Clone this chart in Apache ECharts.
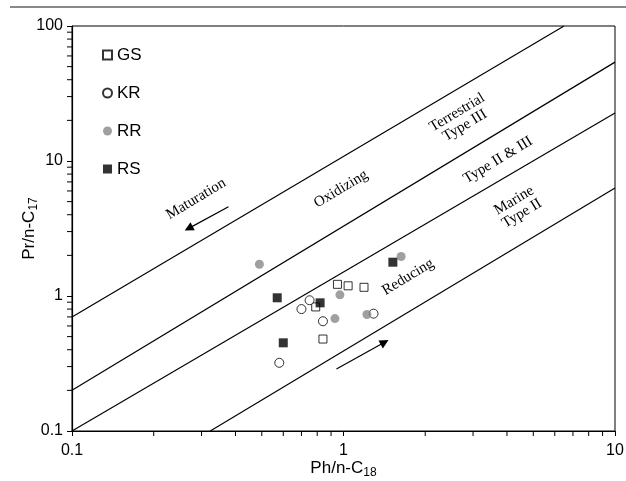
<!DOCTYPE html>
<html>
<head>
<meta charset="utf-8">
<script src="https://cdn.jsdelivr.net/npm/echarts@6/dist/echarts.min.js"></script>
<style>
  html, body { margin: 0; padding: 0; background: #fff; }
  #chart { width: 626px; height: 481px; }
</style>
</head>
<body>
<div id="chart"></div>
<script>
// sample points [Ph/n-C18, Pr/n-C17]
var gsData = [[0.95, 1.22], [1.04, 1.19], [1.19, 1.16], [0.79, 0.83], [0.84, 0.48]];
var krData = [[0.70, 0.80], [0.75, 0.93], [0.84, 0.65], [1.29, 0.74], [0.58, 0.32]];
var rrData = [[0.49, 1.72], [0.97, 1.02], [0.93, 0.68], [1.22, 0.73], [1.63, 1.96]];
var rsData = [[1.52, 1.78], [0.57, 0.97], [0.82, 0.89], [0.60, 0.45]];

// boundary lines (end points)
var lineTerrestrial = [[0.1, 0.7], [6.49, 100]];
var lineMixed = [[0.1, 0.2], [10, 54]];
var lineMarine = [[0.1, 0.1], [10, 22.7]];
var lineReducing = [[0.323, 0.1], [10, 6.3]];

// arrows [from, to]
var arrowMaturation = [[0.377, 4.59], [0.269, 3.17]];
var arrowReducing = [[0.942, 0.288], [1.417, 0.454]];

// minor tick values
var xMinorTicks = [0.2, 0.3, 0.4, 0.5, 0.6, 0.7, 0.8, 0.9, 2, 3, 4, 5, 6, 7, 8, 9];
var yMinorTicks = [0.2, 0.3, 0.4, 0.5, 0.6, 0.7, 0.8, 0.9, 2, 3, 4, 5, 6, 7, 8, 9,
  20, 30, 40, 50, 60, 70, 80, 90];

var sansFont = "'Liberation Sans', Arial, sans-serif";
var serifFont = "'Liberation Serif', 'Times New Roman', serif";
var ang = 31 * Math.PI / 180;

var chart = echarts.init(document.getElementById("chart"));

function boundary(data) {
  return {
    type: "line",
    data: data,
    symbol: "none",
    silent: true,
    lineStyle: { color: "#000", width: 1.2 },
    z: 1
  };
}

function annot(x, y, text) {
  return {
    type: "text",
    x: x,
    y: y,
    rotation: ang,
    style: {
      text: text,
      font: "15px " + serifFont,
      fill: "#000",
      align: "center",
      verticalAlign: "middle"
    },
    z: 10
  };
}

chart.setOption({
  animation: false,
  grid: {
    left: 72,
    top: 26,
    right: 11,
    bottom: 50,
    outerBoundsMode: "none",
    show: true,
    borderColor: "#000",
    borderWidth: 1
  },
  legend: {
    data: ["GS", "KR", "RR", "RS"],
    orient: "vertical",
    left: 97,
    top: 40,
    itemWidth: 9,
    itemHeight: 9,
    itemGap: 18,
    textStyle: { fontSize: 17, fontFamily: sansFont, color: "#000", lineHeight: 20 }
  },
  xAxis: {
    type: "log",
    logBase: 10,
    min: 0.1,
    max: 10,
    name: "{n|Ph/n-C}{s|18}",
    nameLocation: "middle",
    nameGap: 27,
    nameMoveOverlap: false,
    nameTextStyle: {
      rich: {
        n: { fontSize: 17, fontFamily: sansFont, color: "#000" },
        s: { fontSize: 12, fontFamily: sansFont, color: "#000", verticalAlign: "bottom", padding: [9, 0, 0, 0] }
      }
    },
    axisLine: { show: true, lineStyle: { color: "#000", width: 1.2 } },
    axisTick: { show: true, length: 5, lineStyle: { color: "#000" } },
    splitLine: { show: false },
    axisLabel: {
      fontSize: 16, fontFamily: sansFont, color: "#000", margin: 12,
      formatter: function (v) { return String(+v.toPrecision(3)); }
    }
  },
  yAxis: {
    type: "log",
    logBase: 10,
    min: 0.1,
    max: 100,
    name: "{n|Pr/n-C}{s|17}",
    nameLocation: "middle",
    nameGap: 32,
    nameMoveOverlap: false,
    nameRotate: 90,
    nameTextStyle: {
      rich: {
        n: { fontSize: 17, fontFamily: sansFont, color: "#000" },
        s: { fontSize: 12, fontFamily: sansFont, color: "#000", verticalAlign: "bottom", padding: [9, 0, 0, 0] }
      }
    },
    axisLine: { show: true, lineStyle: { color: "#000", width: 1.2 } },
    axisTick: { show: true, length: 5, lineStyle: { color: "#000" } },
    splitLine: { show: false },
    axisLabel: {
      fontSize: 16, fontFamily: sansFont, color: "#000", margin: 9,
      formatter: function (v) { return String(+v.toPrecision(3)); }
    }
  },
  graphic: [
    {
      type: "line",
      shape: { x1: 10, y1: 7, x2: 626, y2: 7 },
      style: { stroke: "#888", lineWidth: 2 }
    },
    annot(196, 199, "Maturation"),
    annot(341, 189, "Oxidizing"),
    annot(461, 119, "Terrestrial\nType III"),
    annot(498, 160, "Type II & III"),
    annot(518, 207, "Marine\nType II"),
    annot(408, 277, "Reducing")
  ],
  series: [
    boundary(lineTerrestrial),
    boundary(lineMixed),
    boundary(lineMarine),
    boundary(lineReducing),
    {
      // arrows
      type: "line",
      data: [],
      silent: true,
      markLine: {
        silent: true,
        symbol: ["none", "triangle"],
        symbolSize: 9,
        label: { show: false },
        lineStyle: { color: "#000", width: 1.2, type: "solid" },
        itemStyle: { color: "#000" },
        data: [
          [{ coord: arrowMaturation[0] }, { coord: arrowMaturation[1] }],
          [{ coord: arrowReducing[0] }, { coord: arrowReducing[1] }]
        ]
      }
    },
    {
      // minor ticks x
      type: "custom",
      silent: true,
      clip: false,
      data: xMinorTicks,
      encode: { x: 0 },
      renderItem: function (params, api) {
        var p = api.coord([api.value(0), 0.1]);
        return {
          type: "line",
          shape: { x1: p[0], y1: p[1], x2: p[0], y2: p[1] + 5 },
          style: { stroke: "#000", lineWidth: 1 }
        };
      }
    },
    {
      // minor ticks y
      type: "custom",
      silent: true,
      clip: false,
      data: yMinorTicks.map(function (v) { return [0.1, v]; }),
      renderItem: function (params, api) {
        var p = api.coord([0.1, api.value(1)]);
        return {
          type: "line",
          shape: { x1: p[0], y1: p[1], x2: p[0] - 5, y2: p[1] },
          style: { stroke: "#000", lineWidth: 1 }
        };
      }
    },
    {
      name: "GS",
      type: "scatter",
      data: gsData,
      symbol: "rect",
      symbolSize: 8,
      itemStyle: { color: "#fff", borderColor: "#000", borderWidth: 1 },
      z: 5
    },
    {
      name: "KR",
      type: "scatter",
      data: krData,
      symbol: "circle",
      symbolSize: 9,
      itemStyle: { color: "#fff", borderColor: "#000", borderWidth: 1 },
      z: 5
    },
    {
      name: "RR",
      type: "scatter",
      data: rrData,
      symbol: "circle",
      symbolSize: 9,
      itemStyle: { color: "#888" },
      z: 5
    },
    {
      name: "RS",
      type: "scatter",
      data: rsData,
      symbol: "rect",
      symbolSize: 9,
      itemStyle: { color: "#000" },
      z: 5
    }
  ]
});
</script>
</body>
</html>
